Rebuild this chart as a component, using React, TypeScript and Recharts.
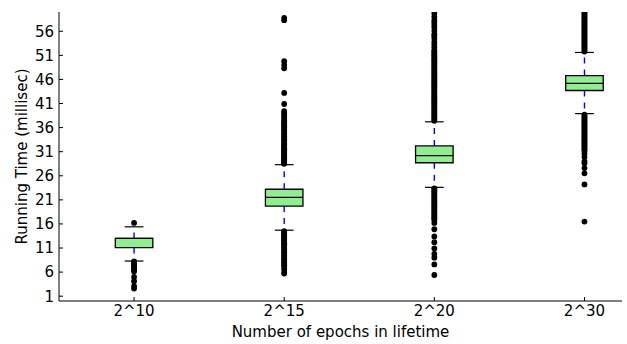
import React from 'react';
import {
  ComposedChart, XAxis, YAxis, Scatter, ReferenceArea, ReferenceLine,
} from 'recharts';

const categories = ['2^10', '2^15', '2^20', '2^30'];
const positions = [1, 2, 3, 4];
const q1 = [11.1, 19.7, 28.7, 43.7];
const median = [13.0, 21.5, 30.2, 45.2];
const q3 = [13.0, 23.2, 32.2, 46.8];
const whiskerLow = [8.3, 14.7, 23.6, 38.9];
const whiskerHigh = [15.4, 28.3, 37.2, 51.6];
const yTicks = [1, 6, 11, 16, 21, 26, 31, 36, 41, 46, 51, 56];

const outliers10 = [16.2, 8.2, 8.0, 7.8, 7.6, 7.4, 7.1, 6.8, 6.5, 6.1, 5.0, 4.1, 3.1, 2.6];
const outliers15 = [
  28.5, 28.7, 28.9, 29.1, 29.3, 29.5, 29.7, 29.9, 30.1, 30.3, 30.5, 30.8, 31.0, 31.2, 31.5, 31.7,
  32.0, 32.2, 32.5, 32.8, 33.0, 33.3, 33.6, 33.9, 34.2, 34.5, 34.8, 35.1, 35.4, 35.7, 36.0, 36.3,
  36.6, 36.9, 37.2, 37.5, 37.9, 38.3, 38.7, 39.1, 39.4, 40.9, 43.2, 48.3, 49.0, 49.8, 58.3, 58.8,
  14.5, 14.3, 14.1, 13.9, 13.7, 13.5, 13.3, 13.1, 12.9, 12.7, 12.5, 12.3, 12.0, 11.8, 11.5, 11.2,
  11.0, 10.7, 10.4, 10.1, 9.8, 9.5, 9.2, 8.9, 8.6, 8.3, 8.0, 7.7, 7.4, 7.1, 6.6, 6.0, 5.7,
];
const outliers20 = [
  37.4, 37.7, 38.0, 38.3, 38.6, 38.9, 39.2, 39.5, 39.8, 40.1, 40.4, 40.7, 41.0, 41.3, 41.6, 41.9,
  42.2, 42.5, 42.8, 43.1, 43.4, 43.7, 44.0, 44.3, 44.6, 44.9, 45.2, 45.5, 45.8, 46.1, 46.4, 46.7,
  47.0, 47.3, 47.6, 47.9, 48.2, 48.5, 48.8, 49.1, 49.4, 49.7, 50.0, 50.3, 50.6, 50.9, 51.2, 51.5,
  51.8, 52.1, 52.7, 53.3, 53.8, 54.5, 55.0, 55.4, 56.1, 56.8, 57.3, 57.8, 58.3, 59.0, 59.7,
  23.4, 23.1, 22.8, 22.5, 22.2, 21.9, 21.6, 21.3, 21.0, 20.7, 20.4, 20.1, 19.8, 19.5, 19.2, 18.9,
  18.6, 18.3, 18.0, 17.7, 17.4, 17.1, 16.8, 16.2, 14.9, 13.4, 12.2, 10.9, 9.8, 9.0, 7.6, 5.4,
];
const outliers30 = [
  51.8, 52.1, 52.4, 52.7, 53.0, 53.3, 53.6, 53.9, 54.2, 54.5, 54.8, 55.1, 55.4, 55.7, 56.0, 56.3,
  56.6, 56.9, 57.2, 57.5, 57.8, 58.1, 58.4, 58.7, 59.0, 59.3, 59.6, 59.9,
  38.7, 38.4, 38.1, 37.8, 37.5, 37.2, 36.9, 36.6, 36.3, 36.0, 35.7, 35.4, 35.1, 34.8, 34.5, 34.2,
  33.9, 33.6, 33.3, 33.0, 32.7, 32.4, 32.1, 31.8, 31.5, 31.2, 30.6, 29.9, 29.0, 28.6, 27.6, 26.5,
  24.2, 16.5,
];
const outlierSets = [outliers10, outliers15, outliers20, outliers30];

const BOX_HALF = 0.125;
const CAP_HALF = 0.0625;
const FONT = '"DejaVu Sans", sans-serif';
const tickStyle = { fill: '#000', fontSize: 15, fontFamily: FONT };

const Dot = (p: any) => <circle cx={p.cx} cy={p.cy} r={2.9} fill="#000" />;
const NoTick = () => <g />;

export default function App() {
  return (
    <div style={{ width: 627, height: 344 }}>
      <style>{'body{margin:0}'}</style>
      <ComposedChart
        width={627}
        height={344}
        margin={{ top: 12, right: 5, bottom: 0, left: 0 }}
      >
        <XAxis
          type="number"
          dataKey="x"
          domain={[0.5, 4.25]}
          ticks={positions}
          tickFormatter={(v: number) => categories[positions.indexOf(v)] ?? ''}
          allowDataOverflow
          height={43}
          tickSize={-4}
          tickMargin={8}
          tick={tickStyle}
          axisLine={{ stroke: '#000' }}
          tickLine={{ stroke: '#000' }}
          label={{
            value: 'Number of epochs in lifetime',
            position: 'insideBottom',
            offset: 7,
            style: { fill: '#000', fontSize: 15, fontFamily: FONT },
          }}
        />
        <XAxis
          xAxisId="top"
          orientation="top"
          type="number"
          dataKey="x"
          domain={[0.5, 4.25]}
          ticks={positions}
          allowDataOverflow
          height={0}
          tickSize={-4}
          tick={NoTick}
          axisLine={{ stroke: '#000' }}
          tickLine={{ stroke: '#000' }}
        />
        <YAxis
          type="number"
          domain={[0, 60]}
          ticks={yTicks}
          allowDataOverflow
          width={59}
          tickSize={-4}
          tickMargin={9}
          tick={tickStyle}
          axisLine={{ stroke: '#000' }}
          tickLine={{ stroke: '#000' }}
          label={{
            value: 'Running Time (millisec)',
            angle: -90,
            position: 'insideLeft',
            offset: 22,
            style: { fill: '#000', fontSize: 15, fontFamily: FONT, textAnchor: 'middle' },
          }}
        />
        <YAxis
          yAxisId="right"
          orientation="right"
          type="number"
          domain={[0, 60]}
          ticks={yTicks}
          allowDataOverflow
          width={0}
          tickSize={-4}
          tick={NoTick}
          axisLine={{ stroke: '#000' }}
          tickLine={{ stroke: '#000' }}
        />

        {positions.map((p, i) => (
          <ReferenceLine
            key={`wl${i}`}
            segment={[{ x: p, y: q1[i] }, { x: p, y: whiskerLow[i] }]}
            stroke="#0000ff"
            strokeWidth={1.4}
            strokeDasharray="6 6"
          />
        ))}
        {positions.map((p, i) => (
          <ReferenceLine
            key={`wh${i}`}
            segment={[{ x: p, y: q3[i] }, { x: p, y: whiskerHigh[i] }]}
            stroke="#0000ff"
            strokeWidth={1.4}
            strokeDasharray="6 6"
          />
        ))}
        {positions.map((p, i) => (
          <ReferenceArea
            key={`box${i}`}
            x1={p - BOX_HALF}
            x2={p + BOX_HALF}
            y1={q1[i]}
            y2={q3[i]}
            fill="#90ee90"
            fillOpacity={1}
            stroke="#000"
            strokeWidth={1.3}
          />
        ))}
        {positions.map((p, i) => (
          <ReferenceLine
            key={`med${i}`}
            segment={[{ x: p - BOX_HALF, y: median[i] }, { x: p + BOX_HALF, y: median[i] }]}
            stroke="#000"
            strokeWidth={1.3}
          />
        ))}
        {positions.map((p, i) => (
          <ReferenceLine
            key={`cl${i}`}
            segment={[{ x: p - CAP_HALF, y: whiskerLow[i] }, { x: p + CAP_HALF, y: whiskerLow[i] }]}
            stroke="#000"
            strokeWidth={1.2}
          />
        ))}
        {positions.map((p, i) => (
          <ReferenceLine
            key={`ch${i}`}
            segment={[{ x: p - CAP_HALF, y: whiskerHigh[i] }, { x: p + CAP_HALF, y: whiskerHigh[i] }]}
            stroke="#000"
            strokeWidth={1.2}
          />
        ))}
        {positions.map((p, i) => (
          <Scatter
            key={`out${i}`}
            data={outlierSets[i].map((y) => ({ x: p, y }))}
            dataKey="y"
            shape={Dot}
            isAnimationActive={false}
          />
        ))}
      </ComposedChart>
    </div>
  );
}
